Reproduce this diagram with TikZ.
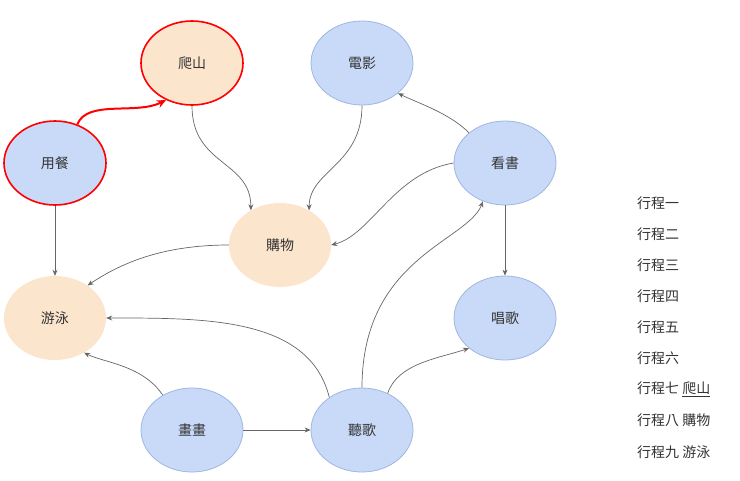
\documentclass[tikz,border=0pt]{standalone}
\usepackage{fontspec}
\setmainfont{Noto Sans CJK TC}
\usetikzlibrary{arrows.meta}
\definecolor{bfill}{HTML}{C9DAF8}
\definecolor{bline}{HTML}{9FB6E0}
\definecolor{ofill}{HTML}{FCE5CD}
\definecolor{txt}{HTML}{333333}
\tikzset{
 ev/.style={ellipse,minimum width=102pt,minimum height=84pt,inner sep=0pt,font=\fontsize{14}{16}\selectfont,text=txt},
 bl/.style={ev,fill=bfill,draw=bline,line width=0.8pt},
 or/.style={ev,fill=ofill},
 hl/.style={draw=red,line width=1.6pt},
 conn/.style={draw=black!60,line width=0.7pt,-{Stealth[length=6pt,width=5pt]}},
 rconn/.style={draw=red,line width=2pt,-{Stealth[length=9pt,width=8pt]}},
 lst/.style={anchor=west,font=\fontsize{14}{16}\selectfont,text=txt,inner sep=0pt}
}
\usetikzlibrary{shapes.geometric}
\begin{document}
\begin{tikzpicture}[x=1pt,y=-1pt]
\useasboundingbox (0,0) rectangle (740,480);
\node[or,hl] (pa) at (192,63) {爬山};
\node[bl] (dy) at (362,63) {電影};
\node[bl,hl] (yc) at (55,163) {用餐};
\node[bl] (ks) at (505,163) {看書};
\node[or] (gw) at (280,245) {購物};
\node[or] (yy) at (55,318) {游泳};
\node[bl] (cg) at (505,318) {唱歌};
\node[bl] (hh) at (192,430) {畫畫};
\node[bl] (tg) at (362,430) {聽歌};
\draw[rconn] (yc.60) .. controls +(10,-25) and +(-30,15) .. (pa.235);
\draw[conn] (pa.south) .. controls +(0,60) and +(0,-50) .. (gw.130);
\draw[conn] (dy.south) .. controls +(0,60) and +(0,-40) .. (gw.50);
\draw[conn] (ks.140) .. controls +(-20,-20) and +(20,10) .. (dy.-40);
\draw[conn] (ks.west) .. controls +(-60,10) and +(40,-10) .. (gw.east);
\draw[conn] (ks.south) -- (cg.north);
\draw[conn] (yc.south) -- (yy.north);
\draw[conn] (gw.west) .. controls +(-70,0) and +(30,-20) .. (yy.45);
\draw[conn] (tg.135) .. controls +(-20,-80) and +(100,0) .. (yy.east);
\draw[conn] (hh.130) .. controls +(-20,-30) and +(20,10) .. (yy.-50);
\draw[conn] (hh.east) -- (tg.west);
\draw[conn] (tg.north) .. controls +(0,-130) and +(-15,40) .. (ks.-120);
\draw[conn] (tg.55) .. controls +(10,-30) and +(-30,10) .. (cg.-140);
\foreach \t [count=\i] in {行程一,行程二,行程三,行程四,行程五,行程六}
  \node[lst] (l\i) at (637,{203+31*(\i-1)}) {\t};
\node[lst] (l7) at (637,389) {行程七 \underline{爬山}};
\node[lst] (l8) at (637,420) {行程八 購物};
\node[lst] (l9) at (637,452) {行程九 游泳};
\end{tikzpicture}
\end{document}
